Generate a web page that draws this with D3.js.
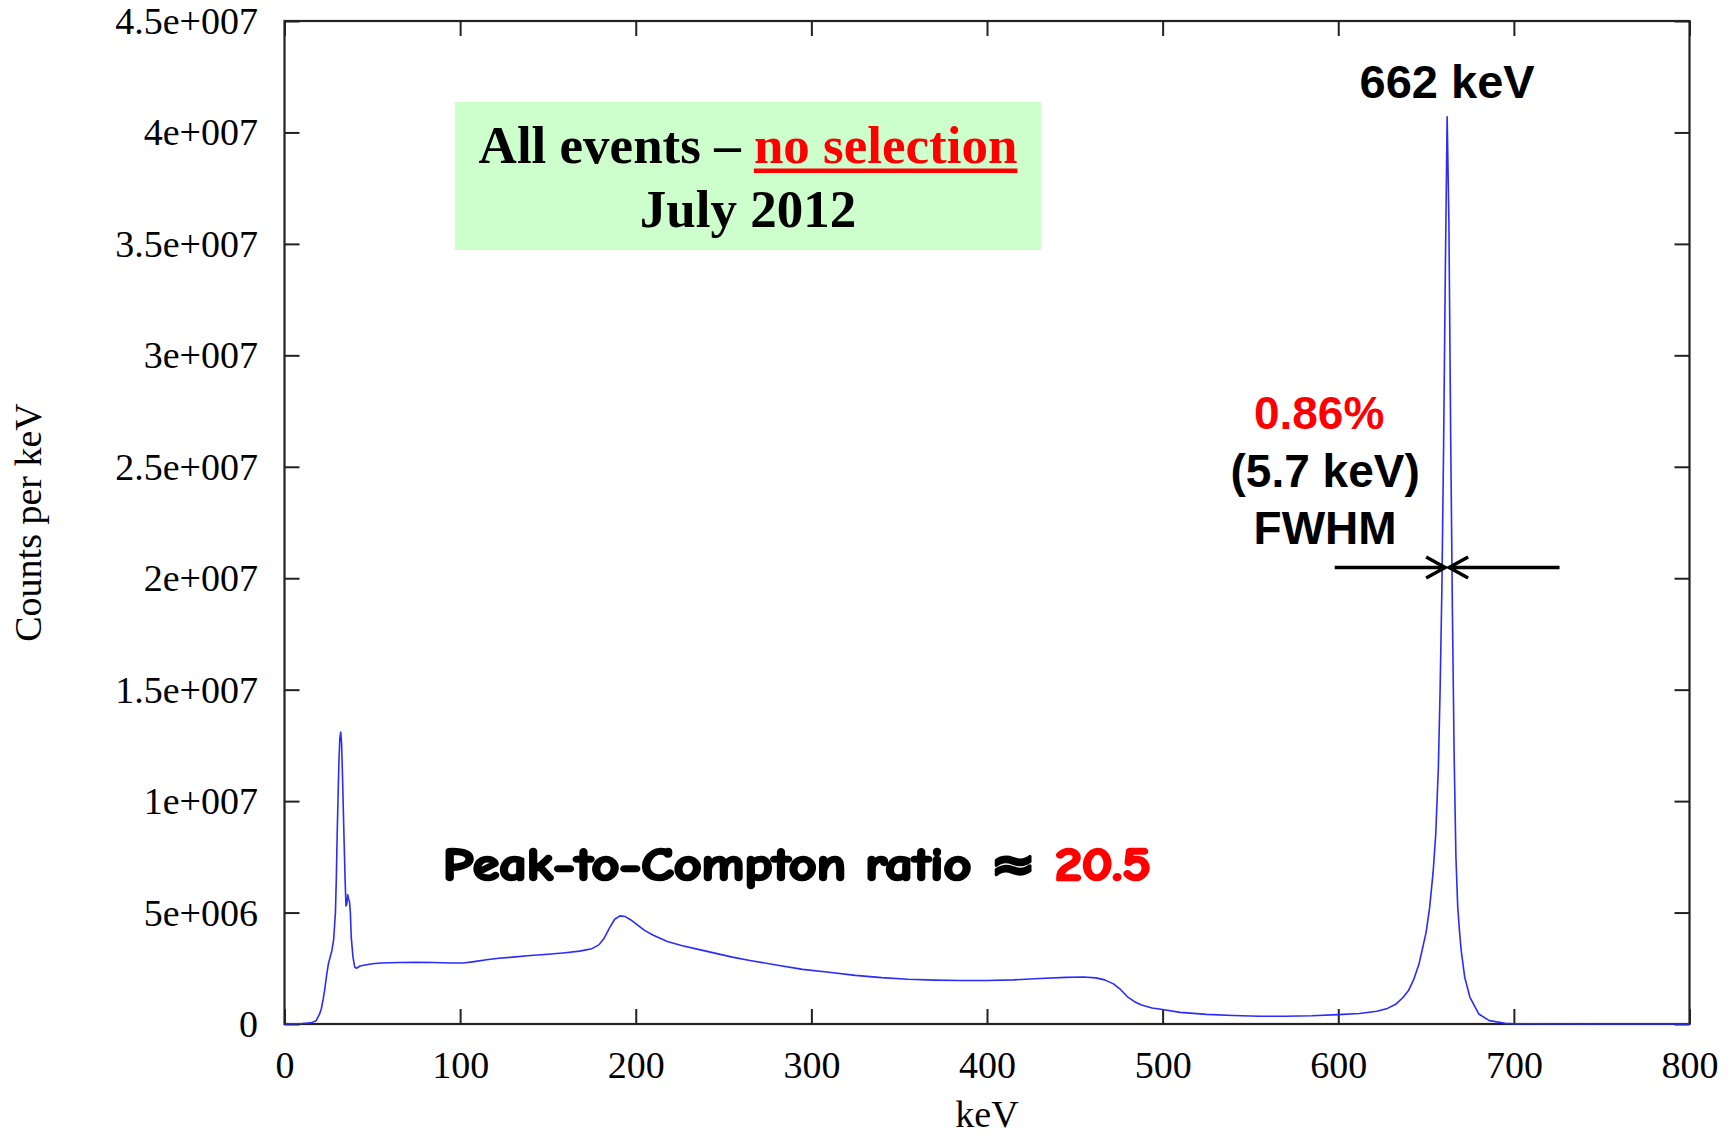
<!DOCTYPE html>
<html>
<head>
<meta charset="utf-8">
<script src="https://cdn.jsdelivr.net/npm/d3@7"></script>
<style>
  html, body { margin: 0; padding: 0; background: #fff; }
  svg { display: block; }
</style>
</head>
<body>
<svg id="chart" width="1736" height="1138"></svg>
<script>
// Cs-137 energy spectrum, all events, July 2012
const energyKeV = [
  0, 5, 10, 15, 18, 20, 21, 22, 23, 24, 25, 26, 27, 28, 29, 29.5, 30, 30.5, 31, 31.5,
  32, 32.5, 33, 33.5, 34, 34.5, 35, 35.5, 36, 36.5, 37, 37.5, 38, 39, 40, 41, 43, 46,
  50, 55, 65, 75, 85, 95, 102, 108, 115, 122, 130, 140, 150, 160, 168, 175, 179, 182,
  185, 188, 191, 194, 197, 200, 205, 210, 218, 226, 235, 245, 255, 265, 280, 295, 310,
  325, 340, 355, 370, 385, 400, 415, 430, 445, 455, 462, 467, 472, 476, 480, 484, 488,
  494, 500, 510, 525, 540, 555, 570, 585, 600, 612, 622, 628, 633, 637, 640, 643, 646,
  648, 650, 652, 654, 655.5, 657, 658, 659, 660, 661, 662, 663, 664, 665, 666, 667, 668,
  669, 670, 672, 675, 680, 686, 695, 700, 750, 800
];
const countsPerKeV = [
  0.00e6, 0.01e6, 0.02e6, 0.05e6, 0.15e6, 0.45e6, 0.7e6, 1.1e6, 1.6e6, 2.2e6, 2.7e6, 3.0e6,
  3.3e6, 3.8e6, 5.0e6, 6.5e6, 8.5e6, 10.2e6, 11.8e6, 12.8e6,
  13.1e6, 12.6e6, 11.2e6, 9.6e6, 8.0e6, 6.5e6, 5.3e6, 5.4e6, 5.8e6, 5.6e6, 5.5e6, 5.0e6,
  3.9e6, 3.0e6, 2.55e6, 2.5e6, 2.6e6, 2.65e6,
  2.7e6, 2.74e6, 2.76e6, 2.77e6, 2.76e6, 2.74e6, 2.74e6, 2.8e6, 2.88e6, 2.95e6, 3.0e6,
  3.07e6, 3.13e6, 3.2e6, 3.27e6, 3.38e6, 3.55e6, 3.85e6,
  4.3e6, 4.7e6, 4.85e6, 4.82e6, 4.68e6, 4.5e6, 4.2e6, 3.98e6, 3.7e6, 3.52e6, 3.36e6,
  3.18e6, 3.0e6, 2.85e6, 2.65e6, 2.45e6, 2.32e6,
  2.18e6, 2.08e6, 2.01e6, 1.97e6, 1.95e6, 1.95e6, 1.98e6, 2.04e6, 2.09e6, 2.11e6, 2.07e6,
  1.98e6, 1.8e6, 1.55e6, 1.22e6, 1.0e6, 0.85e6,
  0.72e6, 0.65e6, 0.52e6, 0.43e6, 0.38e6, 0.35e6, 0.35e6, 0.37e6, 0.42e6, 0.47e6, 0.57e6,
  0.7e6, 0.9e6, 1.2e6, 1.5e6, 2.0e6, 2.7e6,
  3.4e6, 4.1e6, 5.2e6, 6.8e6, 8.5e6, 11.5e6, 15e6, 19.5e6, 26e6, 34e6, 40.7e6, 36e6,
  26.5e6, 18.5e6, 12e6, 7.5e6, 5.3e6,
  4.2e6, 3.3e6, 2.1e6, 1.2e6, 0.45e6, 0.15e6, 0.03e6, 0.01e6, 0, 0
];

const xTickValues = [0, 100, 200, 300, 400, 500, 600, 700, 800];
const yTickValues = [0, 5e6, 1e7, 1.5e7, 2e7, 2.5e7, 3e7, 3.5e7, 4e7, 4.5e7];
const yTickLabels = ["0", "5e+006", "1e+007", "1.5e+007", "2e+007", "2.5e+007",
                     "3e+007", "3.5e+007", "4e+007", "4.5e+007"];

// Photopeak annotation values
const peakEnergy = 662;
const peakCounts = 40.7e6;
const fwhmKeV = 5.7;
const resolutionPct = 0.86;
const peakToCompton = 20.5;

const svg = d3.select("#chart");
const plotLeft = 284.5, plotRight = 1689.5, plotTop = 21, plotBottom = 1024;

const x = d3.scaleLinear().domain([0, 800]).range([plotLeft, plotRight]);
const y = d3.scaleLinear().domain([0, 4.5e7]).range([plotBottom, plotTop]);

const serif = "'Liberation Serif', 'Times New Roman', Times, serif";
const sansBold = "'Liberation Sans', Arial, Helvetica, sans-serif";

// Annotation box (behind the curve)
const box = svg.append("g");
box.append("rect")
  .attr("x", 455).attr("y", 102).attr("width", 586).attr("height", 148)
  .attr("fill", "#ccffcc");

const line1 = box.append("text")
  .attr("font-family", serif).attr("font-weight", "bold").attr("font-size", 53)
  .attr("y", 163).attr("x", 0);
line1.append("tspan").attr("fill", "#000").text("All events \u2013 ");
const sel = line1.append("tspan").attr("fill", "#ff0000").text("no selection");
const total = line1.node().getComputedTextLength();
const selLen = sel.node().getComputedTextLength();
const startX = 748 - total / 2;
line1.attr("x", startX);
box.append("rect")
  .attr("x", startX + total - selLen).attr("y", 168.5)
  .attr("width", selLen).attr("height", 4.5)
  .attr("fill", "#ff0000");

box.append("text")
  .attr("font-family", serif).attr("font-weight", "bold").attr("font-size", 53)
  .attr("x", 748).attr("y", 226.5).attr("text-anchor", "middle")
  .attr("fill", "#000").text("July 2012");

// Axes: inward ticks on all four sides
const tickLen = 15;
const axisColor = "#222";

const gx = svg.append("g").attr("transform", `translate(0,${plotBottom})`)
  .call(d3.axisBottom(x).tickValues(xTickValues).tickSize(-tickLen).tickSizeOuter(0)
    .tickPadding(27).tickFormat(d3.format("d")));
const gxTop = svg.append("g").attr("transform", `translate(0,${plotTop})`)
  .call(d3.axisTop(x).tickValues(xTickValues).tickSize(-tickLen).tickSizeOuter(0)
    .tickFormat(""));
const gy = svg.append("g").attr("transform", `translate(${plotLeft},0)`)
  .call(d3.axisLeft(y).tickValues(yTickValues).tickSize(-tickLen).tickSizeOuter(0)
    .tickPadding(26.5).tickFormat((d, i) => yTickLabels[i]));
const gyRight = svg.append("g").attr("transform", `translate(${plotRight},0)`)
  .call(d3.axisRight(y).tickValues(yTickValues).tickSize(-tickLen).tickSizeOuter(0)
    .tickFormat(""));

[gx, gxTop, gy, gyRight].forEach(g => {
  g.select(".domain").remove();
  g.selectAll(".tick line").attr("stroke", axisColor).attr("stroke-width", 2);
  g.selectAll(".tick text")
    .attr("font-family", serif).attr("font-size", 38).attr("fill", "#000");
});
gx.selectAll(".tick text").attr("dy", "0.71em");
gy.selectAll(".tick text").attr("dy", "0.33em");

svg.append("rect")
  .attr("x", plotLeft).attr("y", plotTop)
  .attr("width", plotRight - plotLeft).attr("height", plotBottom - plotTop)
  .attr("fill", "none").attr("stroke", axisColor).attr("stroke-width", 2.2);

// Axis titles
svg.append("text")
  .attr("font-family", serif).attr("font-size", 38).attr("fill", "#000")
  .attr("text-anchor", "middle")
  .attr("x", (plotLeft + plotRight) / 2).attr("y", 1127)
  .text("keV");
svg.append("text")
  .attr("font-family", serif).attr("font-size", 38).attr("fill", "#000")
  .attr("text-anchor", "middle")
  .attr("transform", `translate(41,${(plotTop + plotBottom) / 2}) rotate(-90)`)
  .text("Counts per keV");

// Spectrum
const points = energyKeV.map((e, i) => [e, countsPerKeV[i]]);
svg.append("path")
  .datum(points)
  .attr("fill", "none")
  .attr("stroke", "#2b2bff")
  .attr("stroke-width", 1.6)
  .attr("stroke-linejoin", "round")
  .attr("d", d3.line().x(d => x(d[0])).y(d => y(d[1])));

// Photopeak label
const px = x(peakEnergy);
svg.append("text")
  .attr("font-family", sansBold).attr("font-weight", "bold").attr("font-size", 47)
  .attr("text-anchor", "middle").attr("fill", "#000")
  .attr("x", px).attr("y", y(peakCounts) - 19)
  .text(`${peakEnergy} keV`);

// FWHM arrows at half maximum
const hy = y(peakCounts / 2) - 3;
const arrow = svg.append("g").attr("stroke", "#000").attr("stroke-width", 3.5)
  .attr("fill", "none").attr("stroke-linecap", "butt");
const lTip = px - 2, rTip = px + 2;
arrow.append("line").attr("x1", x(598)).attr("x2", lTip).attr("y1", hy).attr("y2", hy);
arrow.append("line").attr("x1", rTip).attr("x2", x(726)).attr("y1", hy).attr("y2", hy);
arrow.append("path").attr("d", `M${lTip - 19},${hy - 10.5} L${lTip},${hy} L${lTip - 19},${hy + 10.5}`);
arrow.append("path").attr("d", `M${rTip + 19},${hy - 10.5} L${rTip},${hy} L${rTip + 19},${hy + 10.5}`);

const fw = svg.append("g").attr("font-family", sansBold).attr("font-weight", "bold")
  .attr("font-size", 46).attr("text-anchor", "middle");
fw.append("text").attr("x", px - 128).attr("y", 429).attr("fill", "#ff0000")
  .text(`${resolutionPct.toFixed(2)}%`);
fw.append("text").attr("x", px - 122).attr("y", 487).attr("fill", "#000")
  .text(`(${fwhmKeV} keV)`);
fw.append("text").attr("x", px - 122).attr("y", 544).attr("fill", "#000")
  .text("FWHM");

// Peak-to-Compton ratio (heavy hand-lettered style)
const ptc = svg.append("text")
  .attr("font-family", "'Comic Sans MS', 'Comic Neue', 'DejaVu Sans', sans-serif")
  .attr("font-weight", "bold").attr("font-size", 46)
  .attr("x", 443).attr("y", 880)
  .attr("stroke-width", 2.6).attr("stroke-linejoin", "round")
  .attr("textLength", 708).attr("lengthAdjust", "spacingAndGlyphs");
ptc.append("tspan").attr("fill", "#000").attr("stroke", "#000")
  .text("Peak-to-Compton ratio \u2248 ");
ptc.append("tspan").attr("fill", "#ff0000").attr("stroke", "#ff0000")
  .text(peakToCompton.toFixed(1));
</script>
</body>
</html>
